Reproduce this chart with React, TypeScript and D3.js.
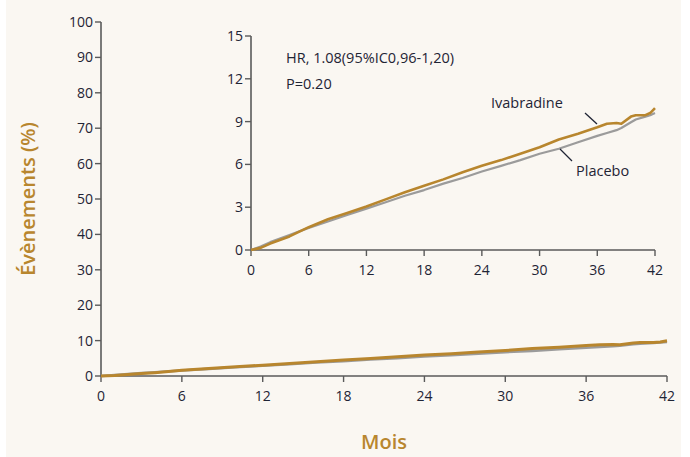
import React from 'react'
import * as d3 from 'd3'

// months and cumulative event rate (%)
const months = [0, 1, 2, 3, 4, 6, 8, 10, 12, 14, 16, 18, 20, 22, 24, 26, 28, 30, 32, 34, 36, 37, 38, 38.5, 39.5, 40, 41, 41.5, 42]
const ivabradine = [0, 0.15, 0.45, 0.7, 0.95, 1.6, 2.15, 2.6, 3.05, 3.55, 4.05, 4.5, 4.95, 5.45, 5.9, 6.3, 6.75, 7.2, 7.75, 8.15, 8.6, 8.85, 8.9, 8.85, 9.35, 9.45, 9.45, 9.6, 9.95]
const placebo = [0, 0.25, 0.55, 0.8, 1.05, 1.55, 2.0, 2.45, 2.9, 3.35, 3.8, 4.2, 4.65, 5.05, 5.5, 5.9, 6.3, 6.75, 7.1, 7.55, 8.0, 8.2, 8.4, 8.55, 8.95, 9.15, 9.35, 9.45, 9.6]

const mainYTicks = [0, 10, 20, 30, 40, 50, 60, 70, 80, 90, 100]
const insetYTicks = [0, 3, 6, 9, 12, 15]
const xTicks = [0, 6, 12, 18, 24, 30, 36, 42]

const gold = '#b8862e'
const grey = '#9b9b9b'
const axisColor = '#5a5a5a'
const labelColor = '#1f2435'
const font = "'Open Sans', 'DejaVu Sans', sans-serif"

function Axes ({ x, y, yTicks, tick, labelSize }: any) {
  const [x0, x1] = x.range()
  const [y0, y1] = y.range()
  return <g>
    <line x1={x0} y1={y0} x2={x0} y2={y1} stroke={axisColor} strokeWidth={1.6} />
    <line x1={x0} y1={y0} x2={x1} y2={y0} stroke={axisColor} strokeWidth={1.6} />
    {yTicks.map((v: number) => <g key={'y' + v} transform={`translate(${x0},${y(v)})`}>
      <line x1={0} x2={-tick} y1={0} y2={0} stroke={axisColor} strokeWidth={1.4} />
      <text x={-tick - 2} dy='0.35em' textAnchor='end' fontSize={labelSize} fill={labelColor}>{v}</text>
    </g>)}
    {xTicks.map(v => <g key={'x' + v} transform={`translate(${x(v)},${y0})`}>
      <line x1={0} x2={0} y1={0} y2={tick} stroke={axisColor} strokeWidth={1.4} />
      <text y={tick + 19} textAnchor='middle' fontSize={labelSize} fill={labelColor}>{v}</text>
    </g>)}
  </g>
}

function Curves ({ x, y, width }: any) {
  const line = d3.line<number>()
    .x((_, i) => x(months[i]))
    .y(d => y(d))
  return <g fill='none' strokeLinejoin='round'>
    <path d={line(placebo) || ''} stroke={grey} strokeWidth={width} />
    <path d={line(ivabradine) || ''} stroke={gold} strokeWidth={width + 0.4} />
  </g>
}

export default function App () {
  const W = 690
  const H = 457

  const x = d3.scaleLinear().domain([0, 42]).range([101, 667])
  const y = d3.scaleLinear().domain([0, 100]).range([376, 22])

  const xi = d3.scaleLinear().domain([0, 42]).range([251, 655])
  const yi = d3.scaleLinear().domain([0, 15]).range([250, 36])

  return <svg width={W} height={H} style={{ display: 'block', position: 'absolute', left: 0, top: 0 }} fontFamily={font}>
    <rect x={0} y={0} width={W} height={H} fill='#ffffff' />
    <rect x={6} y={0} width={675} height={H} fill='#faf7f2' />

    <Axes x={x} y={y} yTicks={mainYTicks} tick={6} labelSize={14} />
    <Curves x={x} y={y} width={2.6} />

    <Axes x={xi} y={yi} yTicks={insetYTicks} tick={6} labelSize={14} />
    <Curves x={xi} y={yi} width={2.2} />

    <text x={286} y={63} fontSize={14.5} fill={labelColor}>HR, 1.08(95%IC0,96-1,20)</text>
    <text x={286} y={89} fontSize={14.5} fill={labelColor}>P=0.20</text>

    <text x={491} y={108} fontSize={14.5} fill={labelColor}>Ivabradine</text>
    <line x1={585} y1={113} x2={597} y2={124} stroke={labelColor} strokeWidth={1.3} />
    <text x={576} y={176} fontSize={14.5} fill={labelColor}>Placebo</text>
    <line x1={560} y1={149} x2={572} y2={161} stroke={labelColor} strokeWidth={1.3} />

    <text x={384} y={449} textAnchor='middle' fontSize={20} fontWeight={600} fill={gold}>Mois</text>
    <text transform='translate(35,199) rotate(-90)' textAnchor='middle' fontSize={20} fontWeight={600} fill={gold}>Évènements (%)</text>
  </svg>
}
